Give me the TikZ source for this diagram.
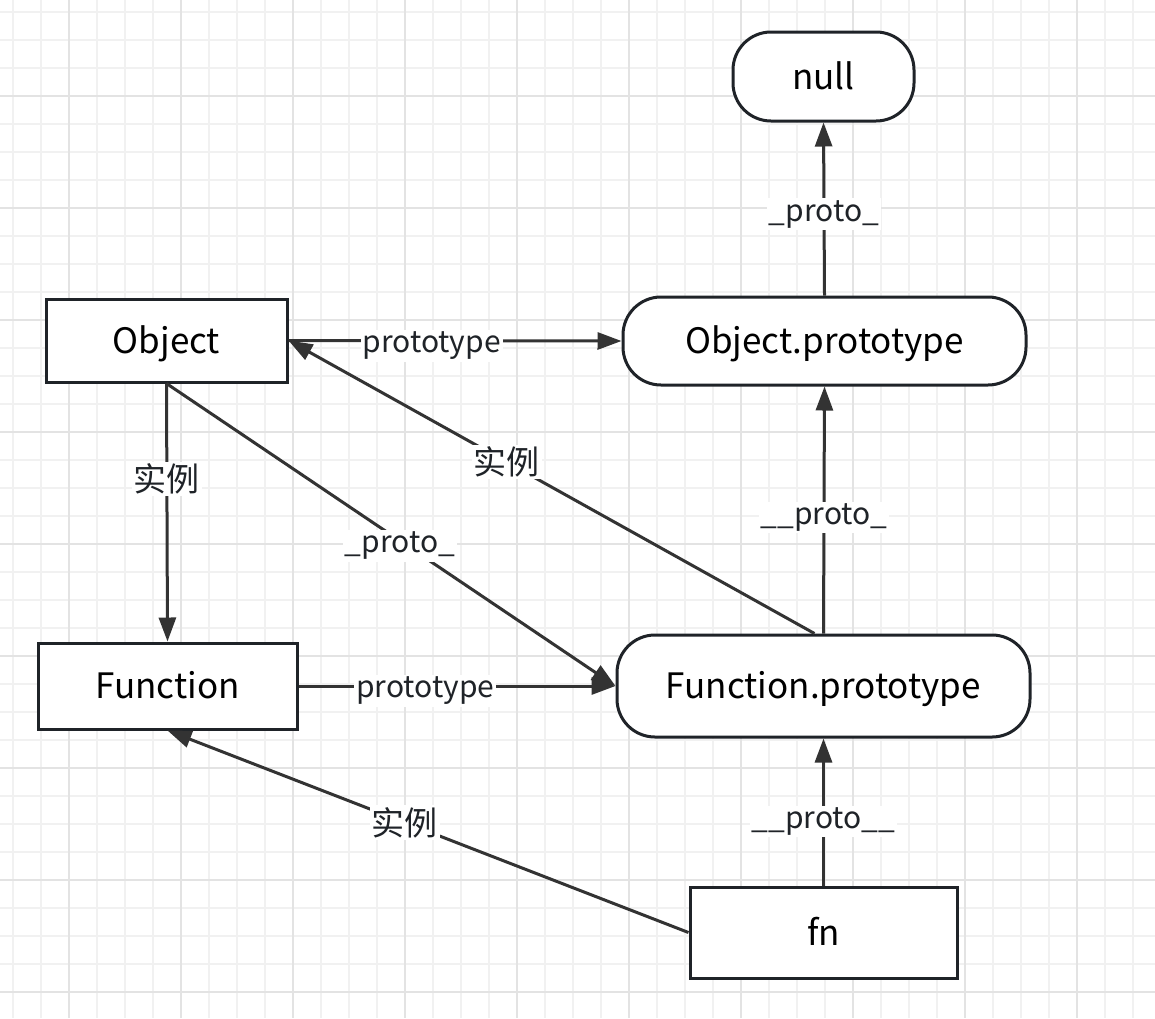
\documentclass[tikz,border=0pt]{standalone}
\usepackage{fontspec}
\setmainfont{Noto Sans CJK SC}
\usetikzlibrary{arrows.meta}
\definecolor{ink}{HTML}{1F2328}
\definecolor{wire}{HTML}{333333}
\definecolor{gridminor}{HTML}{F1F1F1}
\definecolor{gridmajor}{HTML}{E3E3E3}
\begin{document}
\begin{tikzpicture}[x=1pt,y=-1pt,
  box/.style={draw=ink,line width=3pt,fill=white,inner sep=0pt,
    text height=25pt,text depth=0pt,
    font=\fontsize{35}{38}\selectfont},
  pill/.style={box,rounded corners=38pt},
  link/.style={draw=wire,line width=3pt,
    -{Triangle[length=24pt,width=17pt]}},
  tag/.style={fill=white,inner sep=2pt,text=ink,yshift=-5pt,
    font=\fontsize{30}{33}\selectfont},
  cjktag/.style={fill=white,inner sep=2pt,text=ink,
    font=\fontsize{33}{36}\selectfont}]
\useasboundingbox (0,0) rectangle (1155,1018);
\fill[white] (0,0) rectangle (1155,1018);
% background grid
\foreach \k in {0,...,41} {
  \draw[gridminor,line width=1.2pt] ({13+28*\k},0) -- ({13+28*\k},1018);
  \draw[gridminor,line width=1.2pt] (0,{12+28*\k}) -- (1155,{12+28*\k});
}
\foreach \k in {-1,...,10} {
  \draw[gridmajor,line width=1.6pt] ({69+112*\k},0) -- ({69+112*\k},1018);
  \draw[gridmajor,line width=1.6pt] (0,{96+112*\k}) -- (1155,{96+112*\k});
}
% nodes
\node[pill,minimum width=181pt,minimum height=89pt] (null) at (823.5,76.5) {null};
\node[pill,minimum width=403pt,minimum height=88pt] (op) at (824.5,341) {Object.prototype};
\node[box,minimum width=241pt,minimum height=83pt] (obj) at (166.5,340.5) {Object};
\node[box,minimum width=259pt,minimum height=86pt] (fun) at (167.5,686) {Function};
\node[pill,minimum width=413pt,minimum height=102pt] (fp) at (823.5,686) {Function.prototype};
\node[box,minimum width=267pt,minimum height=91pt] (fn) at (823.5,932.5) {fn};
\coordinate (fpTop) at ([xshift=-9pt]fp.north);
% connectors
\draw[link] (op.north) -- node[tag,pos=0.5]{\_proto\_} (null.south);
\draw[link] (fp.north) -- node[tag,pos=0.49]{\_\_proto\_} (op.south);
\draw[link] (fn.north) -- node[tag,pos=0.47]{\_\_proto\_\_} (fp.south);
\draw[link] (obj.east) -- node[tag,pos=0.43]{prototype} (op.west);
\draw[link] (fun.east) -- node[tag,pos=0.4]{prototype} (fp.west);
\draw[link] (obj.south) -- node[cjktag,pos=0.37]{实例} (fun.north);
\draw[link] (obj.south) -- node[tag,pos=0.52]{\_proto\_} (fp.west);
\draw[link] (fpTop) -- node[cjktag,pos=0.585]{实例} (obj.east);
\draw[link] (fn.west) -- node[cjktag,pos=0.545]{实例} (fun.south);
\end{tikzpicture}
\end{document}
